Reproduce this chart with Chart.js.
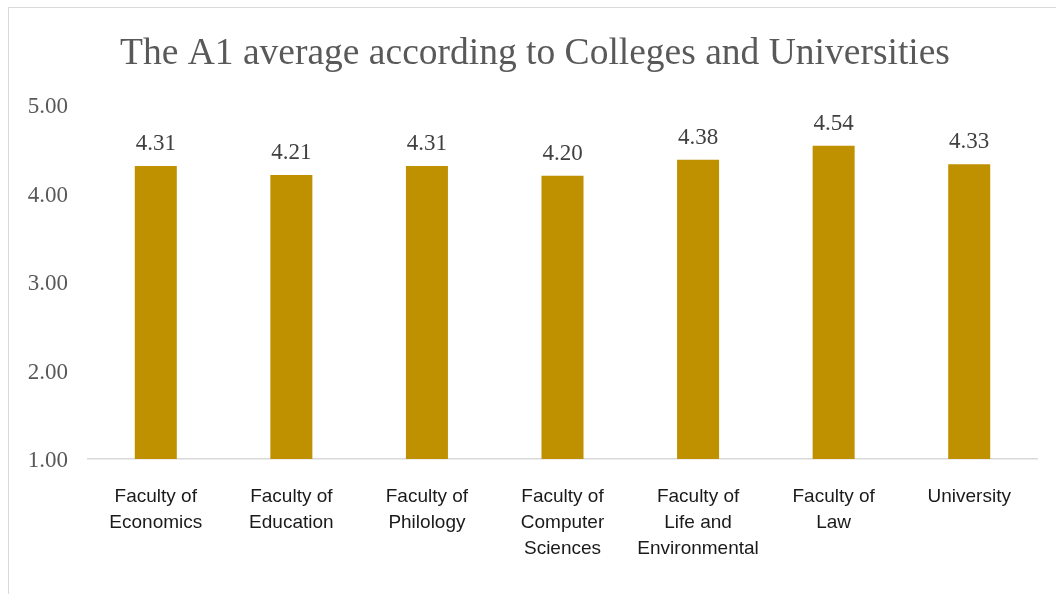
<!DOCTYPE html>
<html>
<head>
<meta charset="utf-8">
<script src="https://cdn.jsdelivr.net/npm/chart.js@4/dist/chart.umd.min.js"></script>
<style>
  html, body { margin: 0; padding: 0; background: #ffffff; overflow: hidden; }
  #wrap { position: relative; width: 1056px; height: 594px; }
  #frame { position: absolute; left: 8px; top: 7px; width: 1100px; height: 700px;
           border: 1.5px solid #d9d9d9; pointer-events: none; }
  canvas { position: absolute; left: 0; top: 0; }
</style>
</head>
<body>
<div id="wrap">
  <canvas id="c" width="1056" height="594"></canvas>
  <div id="frame"></div>
</div>
<script>
const titleText = 'The A1 average according to Colleges and Universities';
const categories = [
  ['Faculty of', 'Economics'],
  ['Faculty of', 'Education'],
  ['Faculty of', 'Philology'],
  ['Faculty of', 'Computer', 'Sciences'],
  ['Faculty of', 'Life and', 'Environmental'],
  ['Faculty of', 'Law'],
  ['University']
];
const averages = [4.31, 4.21, 4.31, 4.20, 4.38, 4.54, 4.33];
const yTicks = [1, 2, 3, 4, 5];

const valueLabels = {
  id: 'valueLabels',
  afterDatasetsDraw(chart) {
    const ctx = chart.ctx;
    const meta = chart.getDatasetMeta(0);
    ctx.save();
    ctx.font = '23px "Liberation Serif", "Times New Roman", serif';
    ctx.fillStyle = '#404040';
    ctx.textAlign = 'center';
    ctx.textBaseline = 'alphabetic';
    meta.data.forEach((bar, i) => {
      ctx.fillText(averages[i].toFixed(2), bar.x, bar.y - 16);
    });
    ctx.restore();
  }
};

const chartTitle = {
  id: 'chartTitle',
  afterDraw(chart) {
    const ctx = chart.ctx;
    ctx.save();
    ctx.font = '37.5px "Liberation Serif", "Times New Roman", serif';
    ctx.fillStyle = '#595959';
    ctx.textAlign = 'center';
    ctx.textBaseline = 'alphabetic';
    ctx.fillText(titleText, 535, 64);
    ctx.restore();
  }
};

new Chart(document.getElementById('c'), {
  type: 'bar',
  data: {
    labels: categories,
    datasets: [{
      data: averages,
      backgroundColor: '#BF9000',
      borderWidth: 0,
      categoryPercentage: 1.0,
      barPercentage: 0.31
    }]
  },
  options: {
    responsive: false,
    animation: false,
    layout: { padding: { left: 14, right: 19, top: 105, bottom: 0 } },
    plugins: {
      legend: { display: false },
      tooltip: { enabled: false },
      title: { display: false }
    },
    scales: {
      x: {
        grid: { display: false, drawTicks: false },
        border: { display: true, color: '#d9d9d9', width: 1.5 },
        ticks: {
          color: '#1a1a1a',
          font: { family: '"Liberation Sans", Arial, sans-serif', size: 19, lineHeight: 1.37 },
          padding: 25,
          maxRotation: 0,
          autoSkip: false
        },
        afterFit(scale) { scale.height = 135; }
      },
      y: {
        min: 1,
        max: 5,
        afterBuildTicks(scale) { scale.ticks = yTicks.map(v => ({ value: v })); },
        grid: { display: false, drawTicks: false },
        border: { display: false },
        ticks: {
          color: '#595959',
          font: { family: '"Liberation Serif", "Times New Roman", serif', size: 23 },
          padding: 20,
          labelOffset: 2,
          callback: v => Number(v).toFixed(2)
        },
        afterFit(scale) { scale.width = 74; }
      }
    }
  },
  plugins: [valueLabels, chartTitle]
});
</script>
</body>
</html>
